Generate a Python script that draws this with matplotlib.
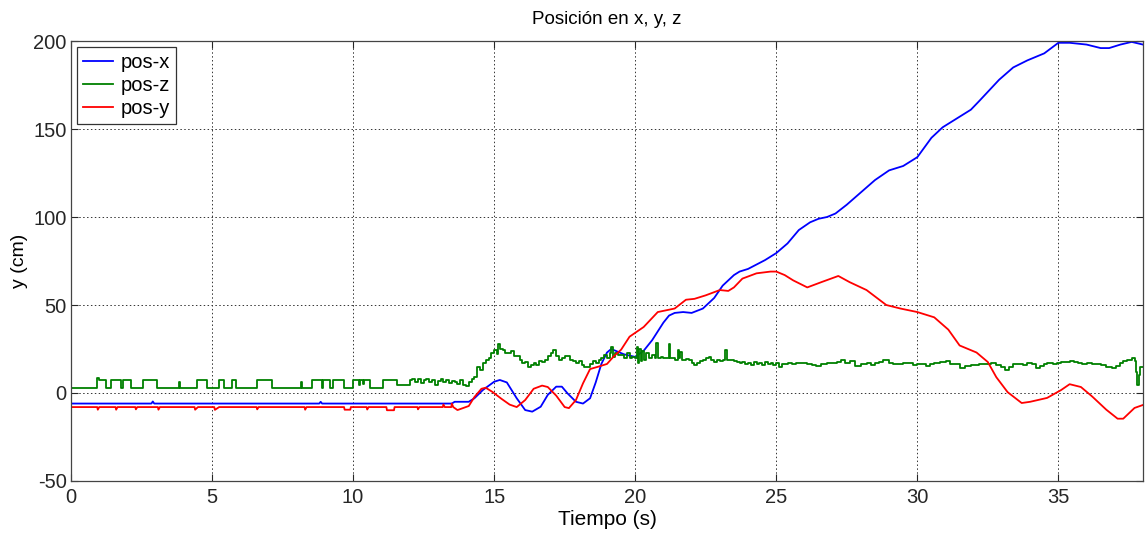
import numpy as np
import matplotlib
matplotlib.use('Agg')
import matplotlib.pyplot as plt

plt.rcParams['font.family'] = ['Liberation Sans', 'DejaVu Sans']
plt.rcParams['axes.unicode_minus'] = False

# pos-x (blue)
t_x = [0, 2.85, 2.9, 2.95, 8.8, 8.85, 8.9, 13.5, 13.6, 14.1, 14.3, 14.6, 15.0, 15.2, 15.45,
       15.8, 16.1, 16.35, 16.65, 16.9, 17.2, 17.4, 17.6, 17.9, 18.15, 18.4, 18.6, 18.8, 19.0,
       19.15, 19.3, 19.6, 20.0, 20.3, 20.6, 21.0, 21.2, 21.4, 21.7, 22.0, 22.4, 22.8, 23.1,
       23.5, 23.7, 24.0, 24.3, 24.6, 25.0, 25.4, 25.8, 26.2, 26.5, 26.8, 27.1, 27.5, 28.0,
       28.5, 29.0, 29.5, 30.0, 30.5, 30.9, 31.3, 31.9, 32.2, 32.9, 33.4, 33.9, 34.5, 35.0,
       35.4, 36.0, 36.5, 36.8, 37.2, 37.6, 38.0]
pos_x = [-6, -6, -4.8, -6, -6, -5, -6, -6, -5, -5, -3, 1.7, 6.4, 7.4, 6,
         -3, -9.7, -10.6, -7.8, -1.1, 3.6, 3.6, -0.2, -5, -6, -3, 6, 16.5, 23,
         25, 24, 22, 20.5, 24, 30, 40, 44, 45.5, 46, 45.5, 48, 54, 61,
         67, 69, 70.5, 73, 75.5, 79.5, 85, 92.6, 97, 99, 100, 102, 107, 114,
         121, 126.5, 129, 134, 145, 151, 155, 161, 166, 178, 185, 189, 193, 199,
         199, 198, 196, 196, 198, 199.5, 198]

# pos-y (red)
t_y = [0, 0.93, 0.95, 1.0, 1.58, 1.6, 1.65, 2.28, 2.3, 2.35, 3.08, 3.1, 3.15, 4.38, 4.4,
       4.5, 5.08, 5.1, 5.25, 6.58, 6.6, 6.65, 8.28, 8.3, 8.35, 9.68, 9.7, 9.9, 9.92, 10.48,
       10.5, 10.55, 11.18, 11.2, 11.45, 11.47, 12.28, 12.3, 12.35, 13.18, 13.2, 13.25, 13.48,
       13.5, 13.55, 13.7, 14.1, 14.3, 14.55, 14.7, 14.95, 15.25, 15.55, 15.8, 16.1, 16.4,
       16.7, 16.9, 17.2, 17.5, 17.65, 17.9, 18.15, 18.4, 18.7, 19.0, 19.25, 19.5, 19.8,
       20.3, 20.8, 21.1, 21.4, 21.8, 22.1, 22.5, 23.0, 23.3, 23.5, 23.8, 24.3, 24.8, 25.0,
       25.3, 25.6, 26.1, 26.6, 27.2, 27.6, 28.2, 28.9, 29.4, 30.0, 30.6, 31.1, 31.5, 32.1,
       32.5, 32.8, 33.2, 33.7, 34.0, 34.6, 35.1, 35.4, 35.8, 36.2, 36.7, 37.1, 37.3, 37.7,
       38.0]
pos_y = [-8, -8, -9.5, -8, -8, -9.5, -8, -8, -9.3, -8, -8, -9.5, -8, -8, -9.5,
         -8, -8, -9.6, -8, -8, -9.3, -8, -8, -9.5, -8, -8, -9.5, -9.5, -8, -8,
         -9.4, -8, -8, -9.8, -9.8, -8, -8, -9.3, -8, -8, -6.5, -8, -8,
         -6, -8, -9.7, -7.4, -2.3, 2.4, 3, 0.5, -3.2, -6.6, -8, -4, 2.4,
         4.2, 3.4, -1.5, -8, -8.6, -4, 5.5, 13.6, 15, 16.5, 21, 24.6, 32,
         37.5, 46, 47, 48, 53, 53.5, 55.5, 58.5, 58, 60, 65, 68, 69, 69,
         67, 64, 60, 63, 66.5, 63, 58.5, 50, 48, 46, 43, 36, 27, 23,
         17.6, 9, 0.5, -5.7, -5, -2.8, 1.7, 5, 3.4, -2, -9.5, -14.6, -14.6, -8.5,
         -6.8]

# pos-z (green)
t_z = [0, 0.91, 1.0, 1.24, 1.42, 1.76, 1.83, 2.13, 2.54, 3.04, 3.83, 3.87, 4.48, 4.83,
       5.25, 5.43, 5.69, 5.86, 6.58, 7.14, 8.16, 8.2, 8.56, 8.89, 8.95, 9.18, 9.30, 9.66,
       10.01, 10.2, 10.25, 10.35, 10.4, 10.6, 11.05, 11.55,
       12.02, 12.1, 12.2, 12.3, 12.4, 12.5, 12.6, 12.7, 12.8, 12.9, 13.0, 13.1, 13.2, 13.3,
       13.4, 13.5, 13.6, 13.7, 13.8, 13.9, 14.0, 14.1, 14.2, 14.3, 14.4, 14.5, 14.6, 14.7,
       14.8, 14.9, 15.0, 15.1, 15.15, 15.2, 15.3, 15.4, 15.5, 15.6, 15.7, 15.8, 15.9, 16.0,
       16.1, 16.2, 16.3, 16.4, 16.5, 16.6, 16.7, 16.8, 16.9, 17.0, 17.1, 17.2, 17.3, 17.4,
       17.5, 17.6, 17.7, 17.8, 17.9, 18.0, 18.1, 18.2, 18.3, 18.4, 18.5, 18.6, 18.7, 18.8,
       18.9, 19.0, 19.1, 19.15, 19.2, 19.3, 19.4, 19.5, 19.6, 19.7, 19.8, 19.9, 20.0, 20.05,
       20.1, 20.15, 20.2, 20.25, 20.3, 20.4, 20.5, 20.6, 20.7, 20.75, 20.8, 20.9, 21.0, 21.1,
       21.2, 21.25, 21.3, 21.4, 21.5, 21.55, 21.6, 21.65, 21.8, 21.9, 22.0, 22.1, 22.2, 22.3,
       22.4, 22.5, 22.6, 22.7, 22.8, 22.9, 23.0, 23.1, 23.2, 23.25, 23.4, 23.5, 23.6, 23.7,
       23.8, 23.9, 24.0, 24.1, 24.2, 24.3, 24.4, 24.5, 24.6, 24.7, 24.8, 24.9, 25.0, 25.1,
       25.2, 25.4, 25.55, 25.7, 25.9, 26.1, 26.25, 26.4, 26.6, 26.8, 27.0, 27.15, 27.3, 27.45,
       27.6, 27.8, 28.0, 28.2, 28.35, 28.5, 28.65, 28.8, 29.0, 29.15, 29.3, 29.5, 29.7, 29.85,
       30.0, 30.15, 30.3, 30.45, 30.6, 30.8, 31.0, 31.15, 31.3, 31.5, 31.7, 31.9, 32.0, 32.2,
       32.4, 32.6, 32.8, 32.95, 33.1, 33.25, 33.4, 33.6, 33.75, 33.9, 34.05, 34.2, 34.35, 34.5,
       34.6, 34.8, 34.95, 35.1, 35.25, 35.4, 35.55, 35.7, 35.85, 36.0, 36.2, 36.35, 36.5, 36.7,
       36.9, 37.05, 37.2, 37.3, 37.45, 37.6, 37.7, 37.75, 37.8, 37.85, 37.9, 38.0]
pos_z = [2.7, 8.5, 7.4, 2.7, 7.4, 2.7, 7.4, 2.7, 7.4, 2.7, 6.5, 2.7, 7.4, 2.7,
         7.4, 2.7, 7.4, 2.7, 7.4, 2.7, 6.0, 2.7, 7.4, 2.7, 7.4, 2.7, 7.4, 2.7,
         7.4, 4.5, 7.4, 5, 7.4, 2.7, 7.4, 4.6,
         7.4, 8, 6.5, 7.8, 5.5, 7.4, 8.2, 6, 7.4, 4.8, 7, 8, 6.2, 7.5,
         5.5, 7, 6.5, 5, 7.2, 4.5, 4.0, 6, 8, 9, 15, 13, 17, 19,
         20, 23, 24.6, 22, 28, 25, 24.6, 23, 22.7, 24, 21, 21, 19, 17,
         17.6, 15, 16, 17, 16, 18, 17.6, 19, 21, 22.7, 24.6, 21, 18.8, 20,
         21, 21, 19, 18, 17, 18, 16, 15, 15, 16.5, 18, 17, 19, 20,
         21.6, 20, 22.5, 26, 20.5, 23, 21.7, 21.6, 20, 23, 20, 20.5, 19.7, 26,
         17, 25, 18, 24, 19, 22.5, 20, 21.6, 19.7, 28.3, 19.7, 20.5, 19.7, 20,
         28, 19.7, 20, 19, 24.5, 19.7, 23.5, 19, 19.5, 19, 17, 16.1, 17, 18,
         19, 20, 20.6, 19, 17.8, 18.5, 18, 19, 24.4, 19, 18.9, 18, 17.5, 17,
         17.8, 16.5, 17, 16, 17.5, 16.5, 17, 16, 17.5, 16.5, 16.9, 16, 17, 14.6,
         16.5, 17.3, 16.2, 16.9, 17.2, 16.5, 16.0, 15.5, 16.5, 16.9, 17.3, 17.8, 18.9, 17.2,
         18, 15.2, 16.2, 16.9, 16, 16.9, 17.5, 18.9, 16.9, 16.2, 16.5, 17.2, 16.9, 16.0,
         16.5, 16.2, 15.2, 16.5, 16.9, 17.5, 18, 16.5, 16.3, 14.4, 15.5, 16, 16, 16.5,
         16.2, 16.9, 16.0, 14.5, 13, 14.8, 16.2, 16.5, 16.0, 16.9, 16.2, 14, 15.5, 16.5,
         16.9, 16.5, 17.0, 17.5, 17.8, 18.3, 17.5, 17.0, 16.5, 16.9, 16.5, 16.5, 16.0, 15.0,
         14, 15.5, 17.0, 18, 19, 20, 18, 12, 4.5, 10, 15, 15]

x_ticks = [0, 5, 10, 15, 20, 25, 30, 35]
y_ticks = [-50, 0, 50, 100, 150, 200]

fig = plt.figure(figsize=(11.47, 5.33), dpi=100)
ax = fig.add_axes([0.0619, 0.0976, 0.9346, 0.8254])

ax.plot(t_x, pos_x, color='#0000ff', lw=1.3, label='pos-x')
ax.plot(t_z, pos_z, color='#008000', lw=1.3, drawstyle='steps-post', label='pos-z')
ax.plot(t_y, pos_y, color='#ff0000', lw=1.3, label='pos-y')

ax.set_xlim(0, 38)
ax.set_ylim(-50, 200)
ax.set_xticks(x_ticks)
ax.set_yticks(y_ticks)
ax.tick_params(direction='in', length=5, width=0.8, labelsize=14.5, colors='#262626',
               top=True, right=True)
ax.tick_params(axis='x', pad=5)
ax.tick_params(axis='y', pad=3)
ax.grid(True, color='#333333', linestyle=(0, (1.5, 2.5)), linewidth=0.7)
for s in ax.spines.values():
    s.set_color('#444444')
    s.set_linewidth(0.9)

ax.set_title('Posición en x, y, z', fontsize=13.5, pad=12)
ax.set_xlabel('Tiempo (s)', fontsize=15, labelpad=2)
ax.set_ylabel('y (cm)', fontsize=14, labelpad=4)

leg = ax.legend(loc='upper left', fontsize=14.5, fancybox=False, framealpha=1,
                edgecolor='#333333', borderaxespad=0.3, handlelength=1.5,
                handletextpad=0.35, labelspacing=0.2, borderpad=0.3)
leg.get_frame().set_linewidth(0.9)

fig.savefig('out.png', dpi=100)
